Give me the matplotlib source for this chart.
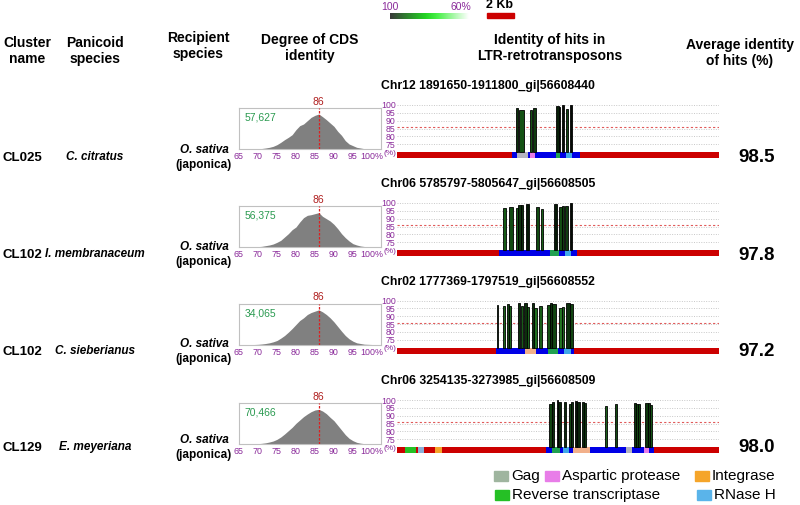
import matplotlib
matplotlib.use('Agg')
import matplotlib.pyplot as plt
import numpy as np
from matplotlib.patches import Rectangle
from matplotlib.colors import LinearSegmentedColormap

plt.rcParams['font.family'] = ['Liberation Sans', 'DejaVu Sans']

W, H = 800, 505

# ---------------- data ----------------
clusters = ['CL025', 'CL102', 'CL102', 'CL129']
panicoid = ['C. citratus', 'I. membranaceum', 'C. sieberianus', 'E. meyeriana']
recipient = ['O. sativa', 'O. sativa', 'O. sativa', 'O. sativa']
recipient_sub = ['(japonica)', '(japonica)', '(japonica)', '(japonica)']
cds_counts = ['57,627', '56,375', '34,065', '70,466']
cds_peak = [86, 86, 86, 86]
chr_titles = ['Chr12 1891650-1911800_gi|56608440',
              'Chr06 5785797-5805647_gi|56608505',
              'Chr02 1777369-1797519_gi|56608552',
              'Chr06 3254135-3273985_gi|56608509']
avg_identity = ['98.5', '97.8', '97.2', '98.0']

hist_bins = list(range(65, 101))
hist_row1 = [0, 0, 0, 0, 0, 0, 1.5, 3, 5, 8, 13, 20, 28, 35, 43, 58, 70, 75, 85, 95,
             101, 105, 97, 88, 78, 68, 53, 41, 25, 15, 10, 5, 3, 1, 0.5, 0]
hist_row2 = [0, 0, 0, 0, 0, 1, 2, 4, 6, 9, 14, 20, 30, 40, 52, 60, 75, 88, 95, 97,
             100, 103, 92, 85, 78, 68, 55, 40, 28, 18, 10, 6, 3, 1.5, 0.5, 0]
hist_row3 = [0, 0, 0, 0, 0, 0.5, 1.5, 3, 5, 8, 12, 19, 27, 37, 48, 60, 72, 80, 90, 96,
             100, 104, 98, 90, 80, 68, 54, 40, 27, 17, 10, 5, 3, 1, 0.5, 0]
hist_row4 = [0, 0, 0, 0, 0, 1, 2, 3.5, 6, 9, 14, 21, 30, 40, 50, 62, 72, 82, 90, 97,
             102, 104, 99, 91, 80, 70, 56, 42, 28, 17, 10, 5, 2.5, 1, 0.5, 0]
hist_rows = [hist_row1, hist_row2, hist_row3, hist_row4]

# hits: (start kb, end kb, identity %)
hits_row1 = [(8.79, 8.94, 98.3), (9.06, 9.43, 97.0), (9.87, 10.00, 97.0), (10.10, 10.27, 98.0),
             (11.78, 12.00, 99.2), (12.00, 12.10, 98.5), (12.20, 12.35, 100.0),
             (12.50, 12.64, 97.5), (12.81, 12.96, 100.0)]
hits_row2 = [(7.88, 8.05, 96.6), (8.30, 8.59, 97.3), (8.84, 8.99, 96.6), (8.96, 9.16, 98.5),
             (9.16, 9.36, 98.5), (9.56, 9.75, 99.4), (10.30, 10.54, 97.3), (10.64, 10.84, 96.2),
             (11.63, 11.83, 99.4), (12.02, 12.22, 97.3), (12.22, 12.37, 97.9),
             (12.47, 12.67, 97.9), (12.79, 12.96, 100.0)]
hits_row3 = [(7.38, 7.51, 97.0), (7.83, 8.00, 96.2), (8.15, 8.32, 97.6), (8.32, 8.47, 96.2),
             (8.94, 9.11, 98.5), (9.16, 9.31, 96.4), (9.41, 9.60, 98.5), (9.60, 9.75, 95.9),
             (9.98, 10.15, 98.5), (10.15, 10.35, 95.3), (10.54, 10.74, 96.4),
             (11.14, 11.33, 97.0), (11.33, 11.51, 98.5), (11.51, 11.75, 97.6),
             (12.02, 12.22, 95.3), (12.22, 12.40, 95.9), (12.54, 12.81, 98.5),
             (12.81, 13.01, 97.6)]
hits_row4 = [(11.28, 11.46, 97.7), (11.46, 11.63, 98.5), (11.83, 11.95, 100.0), (11.95, 12.15, 99.0),
             (12.35, 12.52, 98.7), (12.72, 12.87, 97.7), (12.87, 13.01, 98.5), (13.19, 13.36, 99.6),
             (13.36, 13.56, 99.0), (13.68, 13.85, 98.7), (13.85, 14.00, 98.1),
             (15.41, 15.56, 96.2), (16.17, 16.32, 97.3), (17.56, 17.70, 98.1),
             (17.70, 17.88, 97.5), (17.88, 17.98, 97.7), (18.37, 18.57, 98.1),
             (18.57, 18.74, 98.1), (18.74, 18.91, 96.9)]
hits_rows = [hits_row1, hits_row2, hits_row3, hits_row4]

# domains on the genomic bar: (start kb, end kb, kind)
dom_row1 = [(8.54, 13.58, 'LTR'), (8.89, 9.70, 'Gag'), (9.85, 10.20, 'AP'),
            (11.76, 12.07, 'RT'), (12.50, 12.96, 'RH')]
dom_row2 = [(7.56, 13.31, 'LTR'), (11.36, 12.00, 'RT'), (12.44, 12.89, 'RH')]
dom_row3 = [(7.31, 13.14, 'LTR'), (9.51, 10.30, 'INTp'), (11.21, 11.95, 'RT'), (12.40, 12.89, 'RH')]
dom_row4 = [(0.59, 1.38, 'RTl'), (1.58, 2.00, 'RHl'), (2.81, 3.33, 'INT'),
            (11.04, 19.06, 'LTR'), (11.46, 12.07, 'RT'), (12.30, 12.76, 'RH'),
            (13.06, 14.30, 'INTp'), (16.99, 17.43, 'Gag'), (18.32, 18.69, 'AP')]
dom_rows = [dom_row1, dom_row2, dom_row3, dom_row4]

legend_labels = ['Gag', 'Aspartic protease', 'Integrase', 'Reverse transcriptase', 'RNase H']
legend_colors = ['#9fb59f', '#e87de8', '#f5a52a', '#25c025', '#5ab4ea']

dom_colors = {'LTR': '#0000e6', 'Gag': '#b4b4c0', 'AP': '#e87de8', 'RT': '#20a050',
              'RH': '#40a8e8', 'INTp': '#f2b08a', 'INT': '#f5a52a', 'RTl': '#25c025',
              'RHl': '#8ab0d8'}

# ---------------- layout helpers ----------------
fig = plt.figure(figsize=(W / 100, H / 100), dpi=100)


def fx(x):
    return x / W


def fy(y):
    return 1 - y / H


def add_ax(l, t, r, b):
    return fig.add_axes([l / W, 1 - b / H, (r - l) / W, (b - t) / H])


purple = '#8a2a9a'
hit100_y = [105, 203, 300.5, 400]
text_y = [158, 255, 352, 448]

# headers
hdr = dict(ha='center', va='center', fontsize=10, fontweight='bold', linespacing=1.15)
fig.text(fx(27), fy(51), 'Cluster\nname', **hdr)
fig.text(fx(95), fy(51), 'Panicoid\nspecies', **hdr)
fig.text(fx(198), fy(46), 'Recipient\nspecies', **hdr)
fig.text(fx(310), fy(48), 'Degree of CDS\nidentity', **hdr)
fig.text(fx(550), fy(48), 'Identity of hits in\nLTR-retrotransposons', **hdr)
fig.text(fx(740), fy(53), 'Average identity\nof hits (%)', **hdr)

# colour gradient legend
gcmap = LinearSegmentedColormap.from_list('g', [(0, '#3a3a3a'), (0.45, '#22d422'),
                                               (0.6, '#48f048'), (1, '#ffffff')])
axg = add_ax(390, 13, 469, 19)
axg.imshow(np.linspace(0, 1, 200)[None, :], aspect='auto', cmap=gcmap)
axg.set_axis_off()
fig.text(fx(390), fy(6.5), '100', color=purple, fontsize=7.5, ha='center', va='center')
fig.text(fx(461), fy(6.5), '60%', color=purple, fontsize=7.5, ha='center', va='center')
fig.patches.append(Rectangle((fx(487), fy(18)), (514 - 487) / W, 5 / H,
                             transform=fig.transFigure, color='#cc0000'))
fig.text(fx(500), fy(5), '2 Kb', fontsize=9, fontweight='bold', ha='center', va='center')

hitcmap = LinearSegmentedColormap.from_list('h', ['#040c04', '#145214', '#2a8a2a'])

for i in range(4):
    ty = text_y[i]
    fig.text(fx(22), fy(ty), clusters[i], fontsize=9.5, fontweight='bold', ha='center', va='center')
    fig.text(fx(95), fy(ty - 1), panicoid[i], fontsize=8.5, fontweight='bold', style='italic',
             ha='center', va='center')
    fig.text(fx(204), fy(ty - 8), recipient[i], fontsize=8.5, fontweight='bold', style='italic',
             ha='center', va='center')
    fig.text(fx(204), fy(ty + 7), recipient_sub[i], fontsize=8.5, fontweight='bold',
             ha='center', va='center')
    fig.text(fx(757), fy(ty), avg_identity[i], fontsize=13.5, fontweight='bold',
             ha='center', va='center')

    # histogram
    top = hit100_y[i] + 3
    axh = add_ax(239, top, 381, top + 41)
    axh.fill_between(hist_bins, hist_rows[i], color='#808080', lw=0, zorder=1)
    axh.set_xlim(65, 102.4)
    axh.set_ylim(0, 123)
    axh.axvline(cds_peak[i], color='#dd1f1f', lw=0.9, ls=(0, (2, 1.2)), zorder=3)
    for s in axh.spines.values():
        s.set_color('#c0c0c0')
        s.set_linewidth(0.8)
    axh.set_xticks([65, 70, 75, 80, 85, 90, 95, 100])
    axh.set_xticklabels(['65', '70', '75', '80', '85', '90', '95', '100%'])
    axh.tick_params(axis='x', length=0, pad=2.5, labelsize=6.4, labelcolor=purple)
    axh.set_yticks([])
    axh.text(0.04, 0.76, cds_counts[i], transform=axh.transAxes, color='#2a9a50',
             fontsize=7.5, ha='left', va='center')
    axh.text(cds_peak[i], 1.03, str(cds_peak[i]), transform=axh.get_xaxis_transform(),
             color='#b02020', fontsize=7.5, ha='center', va='bottom')

    # hits panel
    y100 = hit100_y[i]
    sc = 1.572
    axp = add_ax(397, y100 - 1.0 * sc, 719, y100 + 34 * sc)
    axp.set_xlim(0, 23.85)
    axp.set_ylim(66, 101)
    for s in axp.spines.values():
        s.set_visible(False)
    for g in [75, 80, 85, 90, 95, 100]:
        axp.axhline(g, color='#c8c8c8', lw=0.7, ls=(0, (1, 1.5)), zorder=0)
    axp.axhline(86, color='#e05a5a', lw=0.8, ls=(0, (2, 2)), zorder=1)
    axp.add_patch(Rectangle((0, 66.1), 23.85, 3.9, color='#cc0000', lw=0, zorder=2))
    for (a, b, kind) in dom_rows[i]:
        axp.add_patch(Rectangle((a, 66.1), b - a, 3.9, color=dom_colors[kind], lw=0, zorder=3))
    for (a, b, v) in hits_rows[i]:
        c = hitcmap(np.clip((100 - v) / 6.0, 0, 1))
        axp.add_patch(Rectangle((a, 70), b - a, v - 70, facecolor=c, edgecolor='black',
                                lw=0.6, zorder=4))
    axp.set_xticks([])
    axp.set_yticks([75, 80, 85, 90, 95, 100])
    axp.set_yticklabels(['75', '80', '85', '90', '95', '100'])
    axp.tick_params(axis='y', length=0, pad=1, labelsize=6.3, labelcolor=purple)
    axp.text(-0.003, 69.3, '(%)', transform=axp.get_yaxis_transform(), color=purple,
             fontsize=6.0, ha='right', va='center')
    fig.text(fx(381), fy(y100 - 19), chr_titles[i], fontsize=8.8, fontweight='bold',
             ha='left', va='center')

# domain legend
leg_pos = [(494, 476), (545, 476), (695, 476), (495, 495), (697, 495)]
for (x, y), lab, col in zip(leg_pos, legend_labels, legend_colors):
    fig.patches.append(Rectangle((fx(x), fy(y + 5)), 14 / W, 10 / H,
                                 transform=fig.transFigure, color=col))
    fig.text(fx(x + 17), fy(y), lab, fontsize=11, ha='left', va='center')

fig.savefig('out.png', dpi=100)
